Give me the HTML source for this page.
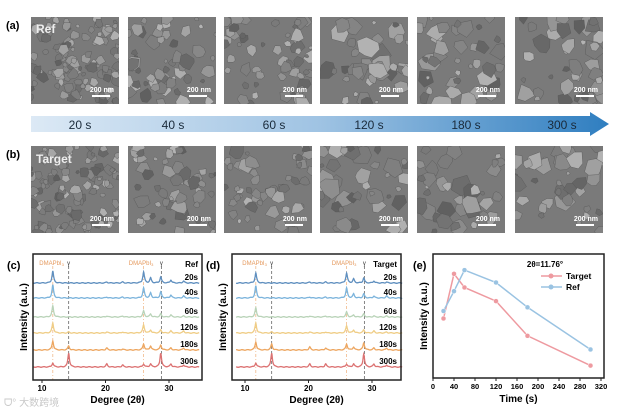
<!DOCTYPE html>
<html><head><meta charset="utf-8"><style>
body{margin:0;background:#fff}
svg{display:block;font-family:"Liberation Sans",Arial,sans-serif}
</style></head><body>
<svg id="fig" width="640" height="412" viewBox="0 0 640 412">
<defs id="defs">
<linearGradient id="arrowGrad" x1="0" x2="1" y1="0" y2="0">
<stop offset="0" stop-color="#dce9f5"/><stop offset="0.5" stop-color="#9fc3e3"/><stop offset="1" stop-color="#2f7ec0"/>
</linearGradient>
</defs>
<text x="6" y="29" font-size="11" font-weight="bold">(a)</text>
<text x="6" y="158" font-size="11" font-weight="bold">(b)</text>
<g id="sem"></g>
<g>
<polygon points="31,116 590,116 590,112 609,124 590,136 590,132 31,132" fill="url(#arrowGrad)"/>
<text x="80" y="129" font-size="12" text-anchor="middle" fill="#1a2a3a">20 s</text>
<text x="173" y="129" font-size="12" text-anchor="middle" fill="#1a2a3a">40 s</text>
<text x="274" y="129" font-size="12" text-anchor="middle" fill="#1a2a3a">60 s</text>
<text x="369" y="129" font-size="12" text-anchor="middle" fill="#1a2a3a">120 s</text>
<text x="466" y="129" font-size="12" text-anchor="middle" fill="#1a2a3a">180 s</text>
<text x="562" y="129" font-size="12" text-anchor="middle" fill="#1a2a3a">300 s</text>
</g>
<g id="xrdC"></g>
<g id="xrdD"></g>
<g id="lineE"></g>
<text x="4" y="406" font-size="10" fill="#c8c8c8">ᗜ° 大数跨境</text>
</svg>
<script>
// ---- XRD data ----
const peakPos=[11.7,14.2,20.2,22.7,26.0,27.1,28.7,30.3,32.3];
const times=["20s","40s","60s","120s","180s","300s"];
const refHeights=[[12,0,1,1,11,5,6,3,2],[13,0,1,1,10,5,6,3,2],[11,0,1,1,6,3,3,2,1],[10,1,1,1,8,3,3,2,2],[9,4,2,1,6,4,5,2,2],[4,14,3,2,3,3,14,3,2]];
const targetHeights=[[10,0,1,1,10,4,5,2,1],[12,0,1,1,10,4,4,2,2],[9,0,1,1,5,2,3,1,1],[10,1,1,1,7,3,3,2,1],[8,6,3,2,6,3,7,2,2],[4,14,3,3,3,3,13,3,2]];
const degTicks=[10,20,30];
// ---- Panel e data ----
const timeVals=[20,40,60,120,180,300];
const targetIntensity=[48,84,73,62,34,10];
const refIntensity=[54,70,87,77,57,23];
const timeTicks=[0,40,80,120,160,200,240,280,320];

const NS="http://www.w3.org/2000/svg";
function mk(tag,attrs,parent){const e=document.createElementNS(NS,tag);for(const k in attrs)e.setAttribute(k,attrs[k]);parent.appendChild(e);return e;}

// ---- SEM textures ----
let seed=7;function rnd(){seed=(seed*16807)%2147483647;return seed/2147483647;}
const sem=document.getElementById('sem');
const defs=document.getElementById('defs');
const colsX=[31,128,224,320,417,515];
const rowsY=[17,146];
for(let r=0;r<2;r++)for(let c=0;c<6;c++){
  const x=colsX[c],y=rowsY[r],w=88,h=87;
  const cp=mk('clipPath',{id:'cp'+r+c},defs);
  mk('rect',{x:x,y:y,width:w,height:h},cp);
  const g=mk('g',{'clip-path':'url(#cp'+r+c+')'},sem);
  
  
  mk('rect',{x:x,y:y,width:w,height:h,fill:'#7a7a7a'},g);
  const n=c<1?110:c<3?55:40, rmax=c<1?4:c<3?6:9;
  for(let i=0;i<n;i++){
    const cx=x+rnd()*w,cy=y+rnd()*h,rr=2+rnd()*rmax;
    const gv=Math.floor(95+rnd()*85);
    let pts='';const k=5+Math.floor(rnd()*3);
    for(let j=0;j<k;j++){const a=j/k*6.283+rnd()*0.5,q=rr*(0.7+rnd()*0.5);pts+=(cx+q*Math.cos(a)).toFixed(1)+','+(cy+q*Math.sin(a)).toFixed(1)+' ';}
    mk('polygon',{points:pts,fill:`rgb(${gv},${gv},${gv})`,stroke:'#555','stroke-width':0.4},g);
  }
  mk('text',{x:x+w-5,y:y+h-12,'font-size':7,'font-weight':'bold','text-anchor':'end',fill:'#fff'},g).textContent='200 nm';
  mk('rect',{x:x+w-27,y:y+h-9,width:18,height:2,fill:'#fff'},g);
}
const tRef=mk('text',{x:36,y:33,'font-size':12,'font-weight':'bold',fill:'#eee'},sem);tRef.textContent='Ref';
const tTar=mk('text',{x:36,y:163,'font-size':12,'font-weight':'bold',fill:'#eee'},sem);tTar.textContent='Target';

// ---- XRD panels ----
const colors=["#5f8fbf","#7cb4dc","#b9d3b8","#efcd86","#eda660","#dc7272"];
function xrd(gid,x0,x1,tick10,letter,title,heights){
  const g=document.getElementById(gid);
  const y0=254,y1=380;
  const px=d=>tick10+(d-10)*6.35;
  const base=[283,298,317,333,350,367];
  mk('text',{x:x0-26,y:y0+15,'font-size':11,'font-weight':'bold'},g).textContent=letter;
  [[11.7,'#f1b98a','3,2,1,2'],[14.2,'#666','3,2'],[26.0,'#f1b98a','3,2,1,2'],[28.8,'#666','3,2']].forEach(l=>{
    const ln=mk('line',{x1:px(l[0]),x2:px(l[0]),y1:y0+12,y2:y1,stroke:l[1],'stroke-width':0.8,'stroke-dasharray':l[2]},g);
    
  });
  const lab=(t,x,col)=>{const e=mk('text',{x:x,y:y0+11,'font-size':6,fill:col,'text-anchor':'middle'},g);e.innerHTML=t;};
  lab('DMAPbI<tspan font-size="4" dy="1">3</tspan>',px(11.5),'#e59a5e');
  lab('DMAPbI<tspan font-size="4" dy="1">3</tspan>',px(25.6),'#e59a5e');
  lab('γ',px(14.2),'#333');lab('γ',px(28.8),'#333');
  mk('text',{x:x1-4,y:y0+13,'font-size':8,'font-weight':'bold','text-anchor':'end'},g).textContent=title;
  heights.forEach((hs,i)=>{
    let d='';
    for(let deg=8.6;deg<=34.8;deg+=0.05){
      let v=0;hs.forEach((h,k)=>{const dx=(deg-peakPos[k])/0.15;v+=h/(1+dx*dx);});
      v+=0.3*Math.sin(deg*7+i);
      d+=(d?'L':'M')+px(deg).toFixed(1)+','+(base[i]-v).toFixed(1);
    }
    const p=mk('path',{d:d,fill:'none',stroke:colors[i],'stroke-width':1.3},g);
    
    mk('text',{x:x1-4,y:base[i]-3,'font-size':8,'font-weight':'bold','text-anchor':'end'},g).textContent=times[i];
  });
  mk('rect',{x:x0,y:y0,width:x1-x0,height:y1-y0,fill:'none',stroke:'#222','stroke-width':1.5},g);
  degTicks.forEach(t=>{
    mk('line',{x1:px(t),x2:px(t),y1:y1,y2:y1+3,stroke:'#222'},g);
    mk('text',{x:px(t),y:y1+11,'font-size':8,'font-weight':'bold','text-anchor':'middle'},g).textContent=t;
  });
  const xt=mk('text',{x:(x0+x1)/2,y:y1+23,'font-size':10,'font-weight':'bold','text-anchor':'middle'},g);xt.textContent='Degree (2θ)';
  
  const yt=mk('text',{x:0,y:0,'font-size':10,'font-weight':'bold','text-anchor':'middle',transform:`translate(${x0-6},${(y0+y1)/2}) rotate(-90)`},g);yt.textContent='Intensity (a.u.)';
  
}
xrd('xrdC',33,202,42,'(c)','Ref',refHeights);
xrd('xrdD',232,401,245,'(d)','Target',targetHeights);

// ---- Panel e ----
(function(){
  const g=document.getElementById('lineE');
  const x0=433,x1=604,y0=254,y1=378;
  const sx=t=>x0+t/320*(601-x0);
  const sy=v=>y1-v/100*(y1-y0);
  mk('text',{x:x0-20,y:y0+15,'font-size':11,'font-weight':'bold'},g).textContent='(e)';
  [[targetIntensity,'#ee9aa0','Target'],[refIntensity,'#9ac3e2','Ref']].forEach(s=>{
    const pts=timeVals.map((t,i)=>sx(t).toFixed(1)+','+sy(s[0][i]).toFixed(1)).join(' ');
    const pl=mk('polyline',{points:pts,fill:'none',stroke:s[1],'stroke-width':1.5},g);
    
    timeVals.forEach((t,i)=>{
      const c=mk('circle',{cx:sx(t),cy:sy(s[0][i]),r:2.5,fill:s[1],stroke:'#fff','stroke-width':0.5},g);
      
    });
  });
  mk('rect',{x:x0,y:y0,width:x1-x0,height:y1-y0,fill:'none',stroke:'#222','stroke-width':1.5},g);
  timeTicks.forEach(t=>{
    mk('line',{x1:sx(t),x2:sx(t),y1:y1,y2:y1+3,stroke:'#222'},g);
    mk('text',{x:sx(t),y:y1+11,'font-size':7.5,'font-weight':'bold','text-anchor':'middle'},g).textContent=t;
  });
  mk('text',{x:(x0+x1)/2,y:y1+24,'font-size':10,'font-weight':'bold','text-anchor':'middle'},g).textContent='Time (s)';
  mk('text',{x:0,y:0,'font-size':10,'font-weight':'bold','text-anchor':'middle',transform:`translate(${x0-6},${(y0+y1)/2}) rotate(-90)`},g).textContent='Intensity (a.u.)';
  const lg=mk('g',{},g);
  mk('text',{x:545,y:267,'font-size':8,'font-weight':'bold','text-anchor':'middle'},lg).textContent='2θ=11.76°';
  [['#ee9aa0','Target',276],['#9ac3e2','Ref',287]].forEach(l=>{
    mk('line',{x1:541,x2:562,y1:l[2],y2:l[2],stroke:l[0],'stroke-width':1.5},lg);
    mk('circle',{cx:551,cy:l[2],r:2.5,fill:l[0]},lg);
    mk('text',{x:566,y:l[2]+3,'font-size':8.5,'font-weight':'bold'},lg).textContent=l[1];
  });
})();
</script>
</body></html>
